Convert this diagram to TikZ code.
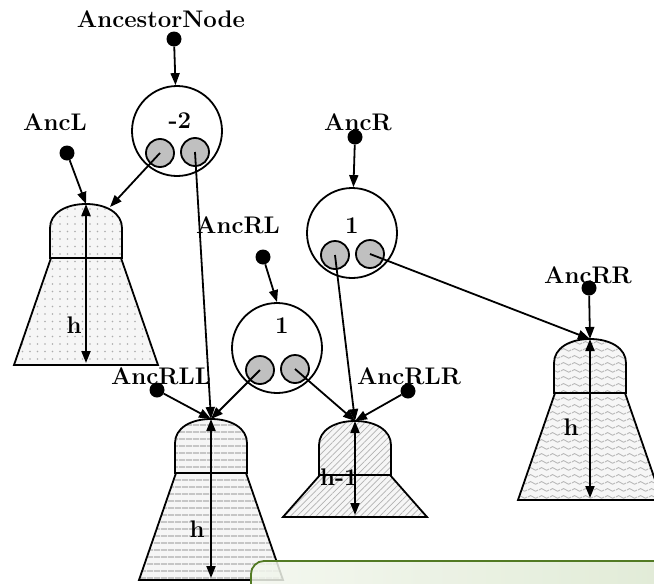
\documentclass[tikz,border=0pt]{standalone}
\usepackage{tikz}
\usetikzlibrary{arrows.meta,patterns.meta}

\definecolor{slotgray}{RGB}{192,192,192}
\definecolor{noteleft}{RGB}{242,246,237}
\definecolor{noteright}{RGB}{217,230,204}
\definecolor{noteline}{RGB}{82,122,36}

\pgfdeclarepattern{
  name=wavy, type=uncolored,
  bottom left={\pgfpoint{0pt}{0pt}}, top right={\pgfpoint{11pt}{7pt}},
  tile size={\pgfpoint{11pt}{7pt}},
  code={
    \pgfsetlinewidth{1pt}
    \pgfpathmoveto{\pgfpoint{0pt}{3.5pt}}
    \pgfpathsine{\pgfpoint{2.75pt}{1.5pt}}
    \pgfpathcosine{\pgfpoint{2.75pt}{-1.5pt}}
    \pgfpathsine{\pgfpoint{2.75pt}{-1.5pt}}
    \pgfpathcosine{\pgfpoint{2.75pt}{1.5pt}}
    \pgfusepath{stroke}
  }
}

\tikzset{
  lbl/.style={font=\fontsize{24}{26}\selectfont\bfseries, anchor=base, inner sep=0pt},
  ptdot/.style={circle, fill, inner sep=0pt, minimum size=15pt},
  bal/.style={circle, draw, line width=1.8pt, minimum size=90pt, inner sep=0pt},
  slot/.style={circle, draw, line width=1.8pt, fill=slotgray, minimum size=28pt, inner sep=0pt,
    path picture={\fill (path picture bounding box.center) circle (7.5pt);}},
  ptr/.style={line width=1.8pt, -{Triangle[length=12pt,width=9pt]}},
  hgt/.style={line width=1.8pt, {Triangle[length=12pt,width=9pt]}-{Triangle[length=12pt,width=9pt]}},
  belldraw/.style={draw, line width=1.8pt, preaction={fill=gray!7}},
  dotsfill/.style={pattern={Dots[distance=7.5pt,radius=0.8pt]}, pattern color=gray!65},
  linesfill/.style={pattern={Lines[angle=0,distance=6.5pt,line width=1.8pt]}, pattern color=gray!45},
  hatchfill/.style={pattern={Lines[angle=45,distance=4.5pt,line width=0.7pt]}, pattern color=gray!60},
  wavefill/.style={pattern=wavy, pattern color=gray!55},
  notebox/.style={draw=noteline, line width=1.8pt, rounded corners=13pt,
    left color=noteleft, right color=noteright, fill opacity=0.85},
  pics/bell/.style 2 args={code={
    \path[belldraw,#1] (-35,54) -- (35,54) -- (72,{54+#2}) -- (-72,{54+#2}) -- cycle;
    \path[belldraw,#1] (-36,54) -- (-36,24) .. controls (-36,9) and (-20,0) .. (0,0)
      .. controls (20,0) and (36,9) .. (36,24) -- (36,54) -- cycle;
    \coordinate (-top) at (0,0);
    \coordinate (-bot) at (0,{52+#2});
  }},
}

\begin{document}
\begin{tikzpicture}[x=1pt, y=-1pt]
  \useasboundingbox (0,0) rectangle (654,584);
  \clip (0,0) rectangle (654,584);

  % subtrees
  \pic (tL) at (86,204) {bell={dotsfill}{107}};
  \pic (tRLL) at (211,419) {bell={linesfill}{107}};
  \pic (tRLR) at (355,421) {bell={hatchfill}{42}};
  \pic (tRR) at (590,339) {bell={wavefill}{107}};
  \draw[hgt] (tL-top) -- (tL-bot);
  \draw[hgt] (tRLL-top) -- (tRLL-bot);
  \draw[hgt] (tRLR-top) -- (tRLR-bot);
  \draw[hgt] (tRR-top) -- (tRR-bot);
  \node[lbl] (hL) at (74,333) {h};
  \node[lbl] (hRLL) at (197,537) {h};
  \node[lbl] (hRLR) at (339,485) {h-1};
  \node[lbl] (hRR) at (571,435) {h};
  \coordinate (hitL) at (110,207);

  % balance nodes
  \node[bal] (bA) at (177,131) {};
  \node[bal] (bR) at (352,233) {};
  \node[bal] (bRL) at (277,348) {};
  \node[lbl] (kA) at (180,128) {-2};
  \node[lbl] (kR) at (352,233) {1};
  \node[lbl] (kRL) at (282,333) {1};
  \node[slot] (sAl) at ([shift={(-17,22)}]bA.center) {};
  \node[slot] (sAr) at ([shift={(18,21)}]bA.center) {};
  \node[slot] (sRl) at ([shift={(-17,22)}]bR.center) {};
  \node[slot] (sRr) at ([shift={(18,21)}]bR.center) {};
  \node[slot] (sRLl) at ([shift={(-17,22)}]bRL.center) {};
  \node[slot] (sRLr) at ([shift={(18,21)}]bRL.center) {};

  % pointer names
  \node[lbl] (nAnc) at (161,27) {AncestorNode};
  \node[lbl] (nL) at (55,130) {AncL};
  \node[lbl] (nR) at (358,130) {AncR};
  \node[lbl] (nRL) at (238,233) {AncRL};
  \node[lbl] (nRR) at (588,283) {AncRR};
  \node[lbl] (nRLL) at (161,384) {AncRLL};
  \node[lbl] (nRLR) at (409,384) {AncRLR};
  \node[ptdot] (dAnc) at (174,39) {};
  \node[ptdot] (dL) at (67,153) {};
  \node[ptdot] (dR) at (355,137) {};
  \node[ptdot] (dRL) at (263,257) {};
  \node[ptdot] (dRR) at (589,288) {};
  \node[ptdot] (dRLL) at (157,390) {};
  \node[ptdot] (dRLR) at (408,391) {};

  % connectors
  \draw[ptr] (dAnc) -- (bA);
  \draw[ptr] (dR) -- (bR);
  \draw[ptr] (dRL) -- (bRL.north);
  \draw[ptr] (dL) -- (tL-top);
  \draw[ptr] (dRR) -- (tRR-top);
  \draw[ptr] (dRLL) -- (tRLL-top);
  \draw[ptr] (dRLR) -- (tRLR-top);
  \draw[ptr] (sAl.center) -- (hitL);
  \draw[ptr] (sAr.center) -- (tRLL-top);
  \draw[ptr] (sRl.center) -- (tRLR-top);
  \draw[ptr] (sRr.center) -- (tRR-top);
  \draw[ptr] (sRLl.center) -- (tRLL-top);
  \draw[ptr] (sRLr.center) -- (tRLR-top);

  % note box
  \draw[notebox] (251,561) rectangle (720,660);
\end{tikzpicture}
\end{document}
